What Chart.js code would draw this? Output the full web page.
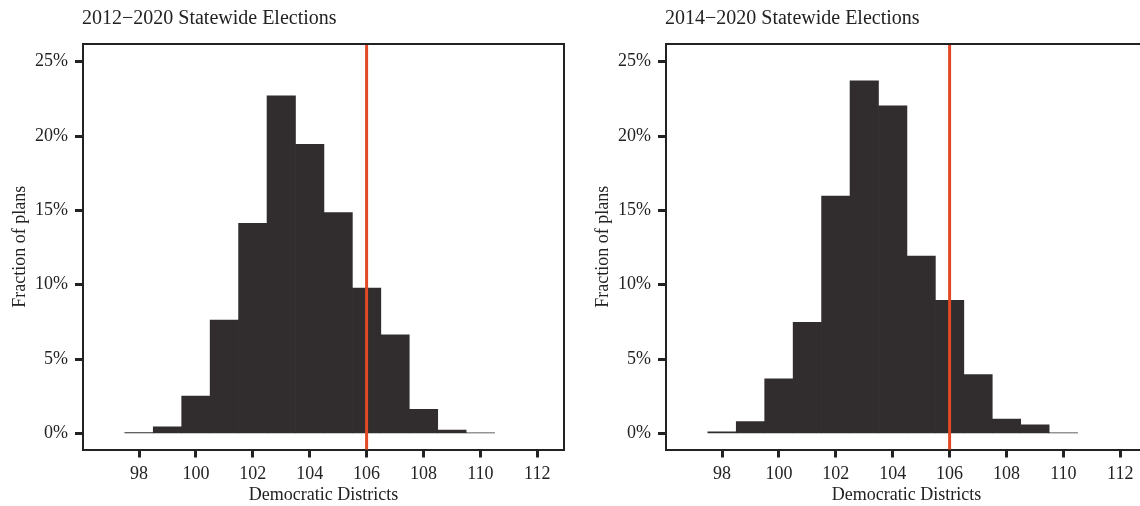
<!DOCTYPE html>
<html>
<head>
<meta charset="utf-8">
<script src="https://cdn.jsdelivr.net/npm/chart.js@4"></script>
<style>
  html, body { margin:0; padding:0; background:#fff; overflow:hidden; width:1140px; height:506px; }
  .wrap { position:absolute; top:0; width:583px; height:506px; }
  #w1 { left:0; }
  #w2 { left:583px; }
</style>
</head>
<body>
<div class="wrap" id="w1"><canvas id="c1" width="583" height="506"></canvas></div>
<div class="wrap" id="w2"><canvas id="c2" width="583" height="506"></canvas></div>
<script>
// ---- data ----
const titles = ["2012\u22122020 Statewide Elections", "2014\u22122020 Statewide Elections"];
const bins = [98, 99, 100, 101, 102, 103, 104, 105, 106, 107, 108, 109, 110];
const frac2012 = [0.05, 0.44, 2.51, 7.62, 14.13, 22.7, 19.45, 14.85, 9.78, 6.64, 1.62, 0.22, 0.04];
const frac2014 = [0.1, 0.79, 3.67, 7.48, 15.97, 23.72, 22.04, 11.93, 8.96, 3.95, 0.97, 0.58, 0.04];
const enactedDistricts = 106;
const xTickValues = [98, 100, 102, 104, 106, 108, 110, 112];
const yTickValues = [0, 5, 10, 15, 20, 25];
const xLabel = "Democratic Districts";
const yLabel = "Fraction of plans";

const FONT = "'Liberation Serif', 'DejaVu Serif', serif";
const INK = '#222222';

function makeChart(canvasId, title, values) {
  const framePlugin = {
    id: 'frame',
    afterDatasetsDraw(chart) {
      const { ctx, chartArea: a, scales } = chart;
      const x = scales.x.getPixelForValue(enactedDistricts);
      ctx.save();
      ctx.strokeStyle = '#e24a25';
      ctx.lineWidth = 3;
      ctx.beginPath();
      ctx.moveTo(x, a.top);
      ctx.lineTo(x, a.bottom);
      ctx.stroke();
      ctx.restore();
    },
    afterDraw(chart) {
      const { ctx, chartArea: a } = chart;
      ctx.save();
      ctx.strokeStyle = INK;
      ctx.lineWidth = 2;
      ctx.beginPath();
      ctx.moveTo(a.left, a.top);
      ctx.lineTo(a.right, a.top);
      ctx.lineTo(a.right, a.bottom);
      ctx.stroke();
      ctx.fillStyle = INK;
      ctx.font = "20px " + FONT;
      ctx.textBaseline = 'middle';
      ctx.textAlign = 'left';
      ctx.fillText(title, a.left - 1, 19);
      ctx.restore();
    }
  };

  return new Chart(document.getElementById(canvasId), {
    type: 'bar',
    data: {
      datasets: [{
        data: bins.map((b, i) => ({ x: b, y: values[i] })),
        backgroundColor: '#312d2e',
        borderWidth: 0,
        barPercentage: 1.0,
        categoryPercentage: 1.0
      }]
    },
    options: {
      responsive: false,
      animation: false,
      devicePixelRatio: 1,
      layout: { padding: { left: 0, right: 19, top: 44, bottom: 0 } },
      plugins: { legend: { display: false }, tooltip: { enabled: false }, title: { display: false } },
      scales: {
        x: {
          type: 'linear',
          min: 96.03,
          max: 112.94,
          offset: false,
          afterBuildTicks: s => { s.ticks = xTickValues.map(v => ({ value: v })); },
          afterFit: s => { s.height = 56.5; },
          ticks: { color: INK, font: { family: FONT, size: 18 }, padding: 6, maxRotation: 0, autoSkip: false },
          grid: { offset: false, drawOnChartArea: false, drawTicks: true, tickLength: 8, tickWidth: 3, tickColor: INK },
          border: { display: true, width: 2, color: INK },
          title: { display: true, text: xLabel, color: INK, font: { family: FONT, size: 18 }, padding: { top: 0, bottom: 0 } }
        },
        y: {
          type: 'linear',
          min: -1.08,
          max: 26.19,
          afterBuildTicks: s => { s.ticks = yTickValues.map(v => ({ value: v })); },
          afterFit: s => { s.width = 83; },
          ticks: { color: INK, font: { family: FONT, size: 18 }, padding: 7, callback: v => v + '%' },
          grid: { drawOnChartArea: false, drawTicks: true, tickLength: 8, tickWidth: 3, tickColor: INK },
          border: { display: true, width: 2, color: INK },
          title: { display: true, text: yLabel, color: INK, font: { family: FONT, size: 18 }, padding: { top: 9, bottom: 0 } }
        }
      }
    },
    plugins: [framePlugin]
  });
}

makeChart('c1', titles[0], frac2012);
makeChart('c2', titles[1], frac2014);
</script>
</body>
</html>
